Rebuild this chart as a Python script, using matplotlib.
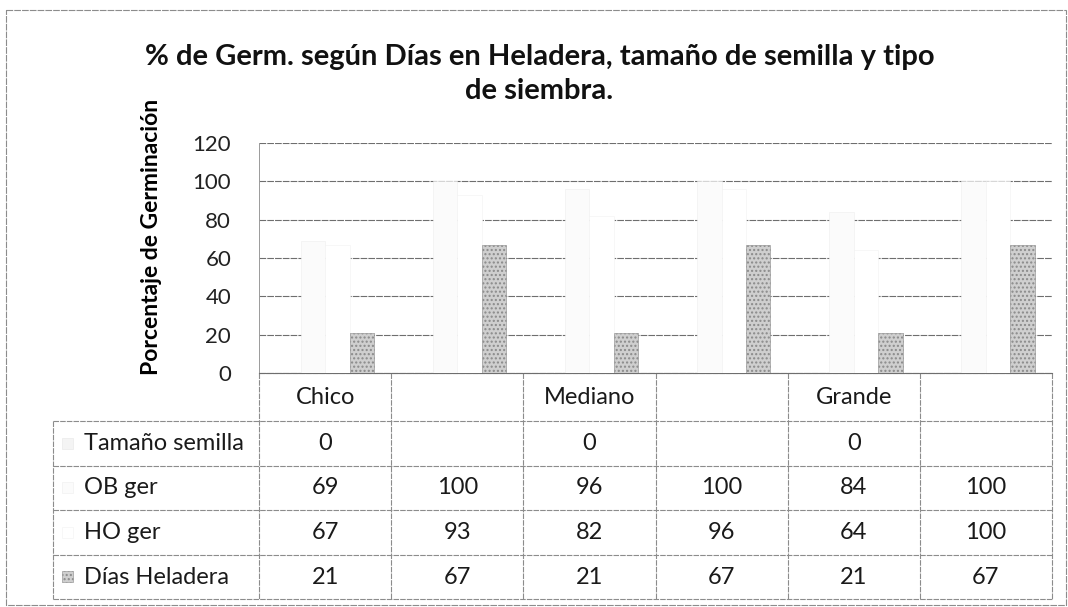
"""Germination chart with a data table below, Excel style."""
import numpy as np
import matplotlib
matplotlib.use("Agg")
import matplotlib.pyplot as plt
from matplotlib.patches import Rectangle

categories = ["Chico", "", "Mediano", "", "Grande", ""]
series_names = ["Tamaño semilla", "OB ger", "HO ger", "Días Heladera"]
tamano_semilla = [0, np.nan, 0, np.nan, 0, np.nan]
ob_ger = [69, 100, 96, 100, 84, 100]
ho_ger = [67, 93, 82, 96, 64, 100]
dias_heladera = [21, 67, 21, 67, 21, 67]
y_ticks = [0, 20, 40, 60, 80, 100, 120]

title = "% de Germ. según Días en Heladera, tamaño de semilla y tipo\nde siembra."
y_label = "Porcentaje de Germinación"

plt.rcParams["font.family"] = ["Lato", "DejaVu Sans"]

W, H = 1068, 607
fig = plt.figure(figsize=(W / 100, H / 100), dpi=100)
fig.patch.set_facecolor("white")

# pixel layout of plot area / table
x0, x1 = 259, 1052
y_top, y_zero = 143, 373
row_edges = [373, 421, 466, 510, 555, 599]
label_left = 53

ax = fig.add_axes([x0 / W, 1 - y_zero / H, (x1 - x0) / W, (y_zero - y_top) / H])
ov = fig.add_axes([0, 0, 1, 1], zorder=-1)
ov.set_xlim(0, W)
ov.set_ylim(H, 0)
ov.axis("off")

values = [tamano_semilla, ob_ger, ho_ger, dias_heladera]
styles = [
    dict(facecolor="#f4f4f4", edgecolor="#e6e6e6", hatch=None),
    dict(facecolor="#fbfbfb", edgecolor="#eeeeee", hatch=None),
    dict(facecolor="#ffffff", edgecolor="#f2f2f2", hatch=None),
    dict(facecolor="#cfcfcf", edgecolor="#8a8a8a", hatch="...."),
]
n = len(categories)
x = np.arange(n)
w = 0.185
for k, (vals, st) in enumerate(zip(values, styles)):
    ax.bar(x + (k - 1.5) * w, np.nan_to_num(vals), width=w, linewidth=0.4,
           zorder=3, **st)

ax.set_xlim(-0.5, n - 0.5)
ax.set_ylim(0, 120)
ax.set_yticks(y_ticks)
ax.set_xticks([])
ax.tick_params(axis="y", length=0, pad=20, labelsize=16, labelcolor="#222222")
ax.grid(axis="y", color="#6e6e6e", linewidth=0.8, linestyle=(0, (6, 1)), zorder=0)
ax.set_axisbelow(True)
for s in ["top", "right"]:
    ax.spines[s].set_visible(False)
ax.spines["left"].set_color("#9a9a9a")
ax.spines["left"].set_linewidth(0.7)
ax.spines["bottom"].set_color("#6e6e6e")
ax.spines["bottom"].set_linewidth(0.8)
ax.set_ylabel(y_label, fontsize=16.5, fontweight="bold")
ax.yaxis.set_label_coords((162 - x0) / (x1 - x0), (y_zero - 237) / (y_zero - y_top))

fig.text(0.505, 1 - 74 / H, title, ha="center", va="center", fontsize=21,
         fontweight="bold", linespacing=1.38, color="#111111")

# data table
col_w = (x1 - x0) / n
line_kw = dict(color="#8c8c8c", linewidth=0.8, linestyle=(0, (5, 1)))
ov.plot([x0, x1], [row_edges[0]] * 2, **line_kw)
for r in row_edges[1:]:
    ov.plot([label_left, x1], [r, r], **line_kw)
for i in range(n + 1):
    ov.plot([x0 + i * col_w] * 2, [row_edges[0], row_edges[-1]], **line_kw)
ov.plot([label_left] * 2, [row_edges[1], row_edges[-1]], **line_kw)

txt_kw = dict(fontsize=17, color="#1a1a1a", va="center")
for i, c in enumerate(categories):
    ov.text(x0 + (i + 0.5) * col_w, (row_edges[0] + row_edges[1]) / 2, c,
            ha="center", **txt_kw)
for j, (name, vals, st) in enumerate(zip(series_names, values, styles)):
    yc = (row_edges[j + 1] + row_edges[j + 2]) / 2
    ov.add_patch(Rectangle((62, yc - 6), 11, 11, linewidth=0.4, **st))
    ov.text(84, yc, name, ha="left", **txt_kw)
    for i, v in enumerate(vals):
        if not np.isnan(v):
            ov.text(x0 + (i + 0.5) * col_w, yc, f"{v:g}", ha="center", **txt_kw)

# outer chart border
ov.add_patch(Rectangle((6, 10), W - 8, H - 12, fill=False, edgecolor="#8c8c8c",
                       linewidth=0.8, linestyle=(0, (6, 1))))

fig.savefig("out.png", dpi=100, facecolor="white")
